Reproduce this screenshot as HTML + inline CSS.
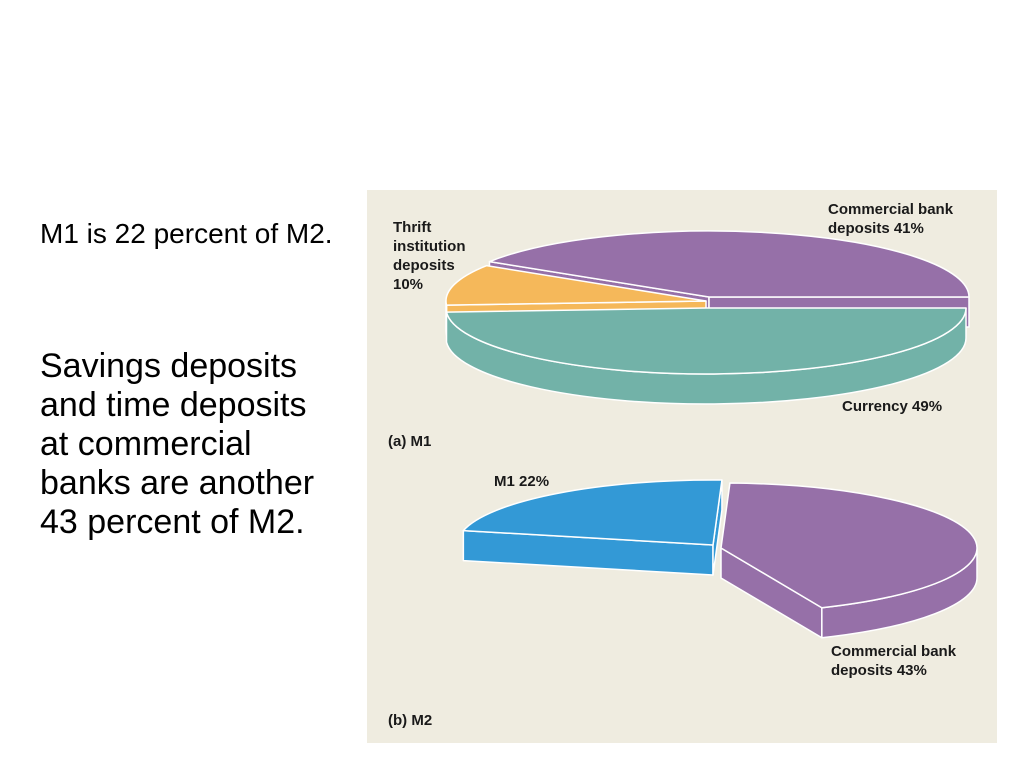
<!DOCTYPE html>
<html><head><meta charset="utf-8"><style>
body{margin:0;width:1024px;height:768px;background:#fff;position:relative;overflow:hidden;font-family:"Liberation Sans",sans-serif}
.t1{position:absolute;left:40px;top:218px;font-size:28px;line-height:32px;color:#000;white-space:nowrap}
.t2{position:absolute;left:40px;top:347px;font-size:34px;line-height:39px;color:#000;white-space:nowrap}
svg{position:absolute;left:0;top:0}
.lb{font-family:"Liberation Sans",sans-serif;font-weight:bold;font-size:15px;fill:#1a1a1a}
</style></head><body>
<div class="t1">M1 is 22 percent of M2.</div>
<div class="t2">Savings deposits<br>and time deposits<br>at commercial<br>banks are another<br>43 percent of M2.</div>
<svg width="1024" height="768" id="chart">
<rect x="367" y="190" width="630" height="553" fill="#efece0"/>
<g id="g1"></g>
<g id="g2"></g>
<text class="lb" x="393" y="232">Thrift</text>
<text class="lb" x="393" y="251">institution</text>
<text class="lb" x="393" y="270">deposits</text>
<text class="lb" x="393" y="289">10%</text>
<text class="lb" x="828" y="214">Commercial bank</text>
<text class="lb" x="828" y="233">deposits 41%</text>
<text class="lb" x="842" y="411">Currency 49%</text>
<text class="lb" x="388" y="446">(a) M1</text>
<text class="lb" x="494" y="486">M1 22%</text>
<text class="lb" x="831" y="656">Commercial bank</text>
<text class="lb" x="831" y="675">deposits 43%</text>
<text class="lb" x="388" y="725">(b) M2</text>
</svg>
<script>
const m1Categories=["Currency","Thrift institution deposits","Commercial bank deposits"];
const m1Values=[49,10,41];
const m2Categories=["M1","Commercial bank deposits"];
const m2Values=[22,43];
const NS="http://www.w3.org/2000/svg";
function pt(cx,cy,rx,ry,a){const r=a*Math.PI/180;return [cx+rx*Math.cos(r),cy+ry*Math.sin(r)];}
function mk(g,d,fill){const p=document.createElementNS(NS,"path");p.setAttribute("d",d);p.setAttribute("fill",fill);p.setAttribute("stroke","#fff");p.setAttribute("stroke-width","1.5");p.setAttribute("stroke-linejoin","round");g.appendChild(p);return p;}
function wall(g,cx,cy,q,dep,fill,name){
  const w=mk(g,`M${cx},${cy} L${q} L${q[0]},${q[1]+dep} L${cx},${cy+dep} Z`,fill);
  
  
}
function slice(g,cx,cy,rx,ry,dep,a0,a1,fill,name){
  const c0=Math.cos(a0*Math.PI/180),c1=Math.cos(a1*Math.PI/180);
  if(c0<0) wall(g,cx,cy,pt(cx,cy,rx,ry,a0),dep,fill,name);
  if(c1>0) wall(g,cx,cy,pt(cx,cy,rx,ry,a1),dep,fill,name);
  const s=Math.max(a0,0),e=Math.min(a1,180);
  if(e>s){const p1=pt(cx,cy,rx,ry,s),p2=pt(cx,cy,rx,ry,e);
    const w=mk(g,`M${p1} A${rx} ${ry} 0 0 1 ${p2} L${p2[0]},${p2[1]+dep} A${rx} ${ry} 0 0 0 ${p1[0]},${p1[1]+dep} Z`,fill);
    
    }
  const p1=pt(cx,cy,rx,ry,a0),p2=pt(cx,cy,rx,ry,a1);const big=(a1-a0)>180?1:0;
  const t=mk(g,`M${cx},${cy} L${p1} A${rx} ${ry} 0 ${big} 1 ${p2} Z`,fill);
  
  
}
const g1=document.getElementById("g1");
const c1=["#72b2a8","#f5b85a","#9670a8"],off1=[[0,5],[0,-2],[3,-6]];
const order1=[2,1,0];
let acc=0;const ang1=m1Values.map(v=>{const a=[acc,acc+v*3.6];acc+=v*3.6;return a;});
order1.forEach(i=>slice(g1,706+off1[i][0],303+off1[i][1],260,66,30,ang1[i][0],ang1[i][1],c1[i],"m1-slice-"+i));
const g2=document.getElementById("g2");
const pA=-88, m2a1=[pA-m2Values[0]*3.6,pA], m2a2=[pA,pA+m2Values[1]*3.6];
slice(g2,713,545,256,65,30,m2a1[0],m2a1[1],"#3399d6","m2-slice-m1");
slice(g2,721,548,256,65,30,m2a2[0],m2a2[1],"#9670a8","m2-slice-commercial");
</script>
</body></html>
